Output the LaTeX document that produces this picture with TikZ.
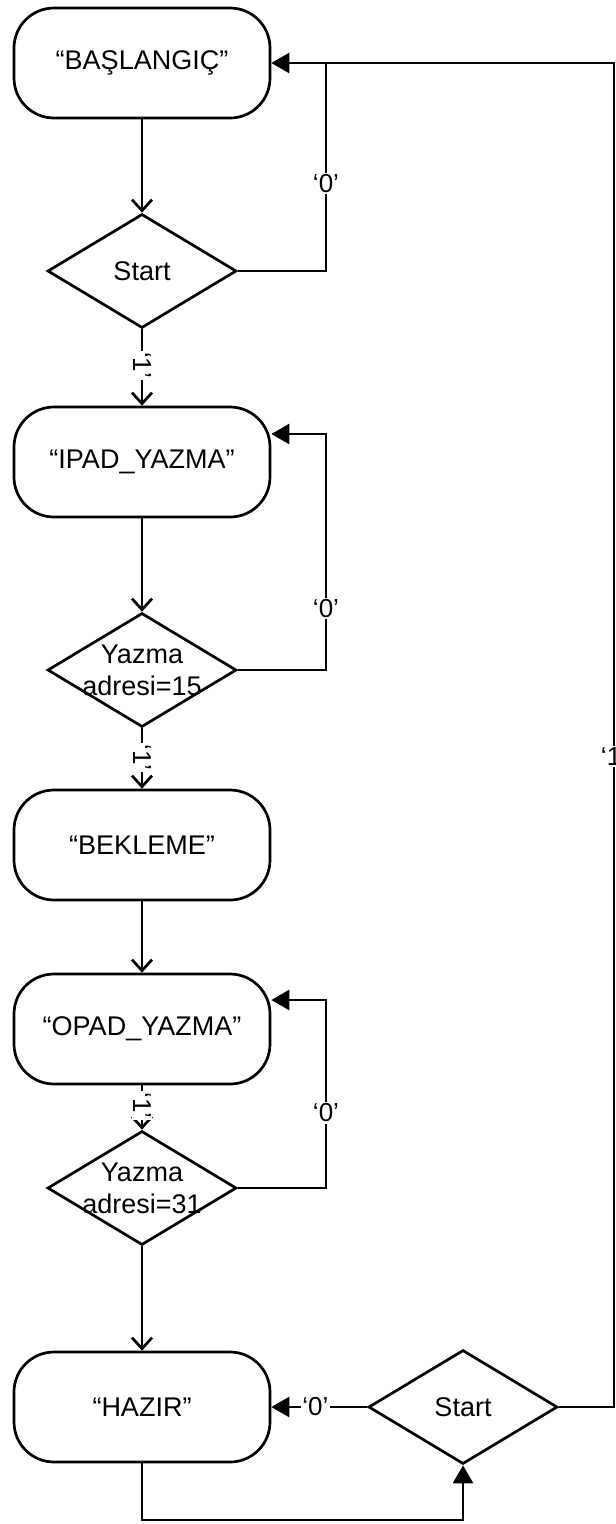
\documentclass[tikz,border=0pt]{standalone}
\usepackage{fontspec}
\setmainfont{Liberation Sans}
\usetikzlibrary{shapes.geometric,arrows.meta}
\begin{document}
\begin{tikzpicture}[x=1pt,y=-1pt,
 state/.style={draw,line width=2.7pt,rounded corners=40pt,minimum width=256pt,minimum height=110pt,font=\fontsize{27}{32}\selectfont},
 dec/.style={draw,diamond,line width=2.7pt,minimum width=189pt,minimum height=114pt,inner sep=0pt},
 txt/.style={font=\fontsize{27}{32}\selectfont,align=center,inner sep=0pt},
 lbl/.style={fill=white,inner sep=1.5pt,font=\fontsize{26}{30}\selectfont},
 conn/.style={line width=2.7pt},
 varr/.style={conn,-{Straight Barb[length=11pt,width=20pt,line width=2.7pt]}},
 tarr/.style={conn,-{Triangle[length=18pt,width=20pt]}},
]
\useasboundingbox (0,0) rectangle (616,1524);

\node[state] (s1) at (142,63) {“BAŞLANGIÇ”};
\node[dec] (d1) at (142,271) {};
\node[txt] (t1) at (d1) {Start};
\node[state] (s2) at (142,462) {“IPAD\_YAZMA”};
\node[dec] (d2) at (142,670) {};
\node[txt] (t2) at (d2) {Yazma\\adresi=15};
\node[state] (s3) at (142,845) {“BEKLEME”};
\node[state] (s4) at (142,1029) {“OPAD\_YAZMA”};
\node[dec] (d3) at (142,1188) {};
\node[txt] (t3) at (d3) {Yazma\\adresi=31};
\node[state] (s5) at (142,1407) {“HAZIR”};
\node[dec] (d4) at (463,1407) {};
\node[txt] (t4) at (d4) {Start};

\coordinate (k1) at (326,63);
\coordinate (k2) at (326,434);
\coordinate (k3) at (326,1000);
\coordinate (r) at (614,63);
\coordinate (b) at (300,1520);

% main column
\draw[varr] (s1) -- (d1);
\draw[varr] (d1) -- node[lbl,rotate=-90,pos=0.47] {‘1’} (s2);
\draw[varr] (s2) -- (d2);
\draw[varr] (d2) -- node[lbl,rotate=-90,pos=0.48] {‘1’} (s3);
\draw[varr] (s3) -- (s4);
\draw[varr] (s4) -- node[lbl,rotate=-90,pos=0.45] {‘1’} (d3);
\draw[varr] (d3) -- (s5);

% loops
\draw[conn] (d1.east) -| node[lbl,pos=0.71] {‘0’} (k1);
\draw[tarr] (d2.east) -| node[lbl,pos=0.63] {‘0’} (k2) -- (k2 -| s2.east);
\draw[tarr] (d3.east) -| node[lbl,pos=0.70] {‘0’} (k3) -- (k3 -| s4.east);

% bottom
\draw[tarr] (d4.west) -- node[lbl,pos=0.54] {‘0’} (s5.east);
\draw[tarr] (s5.south) |- (b) -| (d4.south);
\draw[tarr] (d4.east) -| node[lbl,pos=0.742] {‘1’} (r) -- (s1.east);
\end{tikzpicture}
\end{document}
